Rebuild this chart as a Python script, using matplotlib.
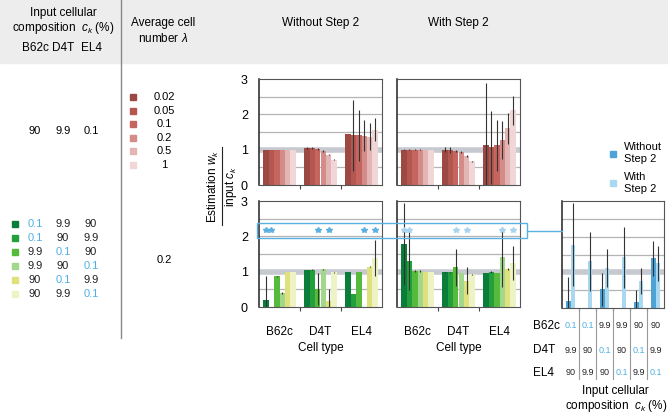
import matplotlib.pyplot as plt
import matplotlib.transforms as mtransforms
import numpy as np
from matplotlib.lines import Line2D
from matplotlib.patches import Rectangle

plt.rcParams["font.family"] = ["Liberation Sans", "DejaVu Sans"]
plt.rcParams["mathtext.fontset"] = "custom"
plt.rcParams["mathtext.rm"] = "Liberation Sans"
plt.rcParams["mathtext.it"] = "Liberation Sans:italic"

# ---- data ----
cell_types = ["B62c", "D4T", "EL4"]
lambdas = ["0.02", "0.05", "0.1", "0.2", "0.5", "1"]
top_composition = ["90", "9.9", "0.1"]

# input compositions (%) as B62c, D4T, EL4
compositions = [
    ["0.1", "9.9", "90"],
    ["0.1", "90", "9.9"],
    ["9.9", "0.1", "90"],
    ["9.9", "90", "0.1"],
    ["90", "0.1", "9.9"],
    ["90", "9.9", "0.1"],
]

# top row: rows = cell type, columns = lambda
lam_without = [
    [1.0, 1.0, 1.0, 1.0, 1.0, 1.0],
    [1.05, 1.05, 1.02, 0.96, 0.86, 0.72],
    [1.43, 1.41, 1.41, 1.40, 1.37, 1.57],
]
lam_without_err = [
    [0.0, 0.0, 0.0, 0.0, 0.0, 0.0],
    [0.03, 0.03, 0.02, 0.02, 0.02, 0.01],
    [0.0, 1.0, 0.72, 0.45, 0.39, 0.32],
]
lam_with = [
    [1.0, 1.0, 1.0, 1.0, 1.0, 1.0],
    [1.0, 0.99, 0.97, 0.93, 0.82, 0.67],
    [1.12, 1.07, 1.12, 1.27, 1.6, 2.11],
]
lam_with_err = [
    [0.01, 0.01, 0.01, 0.01, 0.0, 0.0],
    [0.08, 0.08, 0.03, 0.02, 0.02, 0.01],
    [1.77, 1.03, 0.71, 0.53, 0.44, 0.41],
]

# bottom row (lambda = 0.2): rows = cell type, columns = composition
comp_without = [
    [0.19, 0.0, 0.87, 0.40, 0.99, 1.0],
    [1.05, 1.06, 0.52, 1.07, 0.17, 0.98],
    [1.0, 0.38, 1.0, 0.0, 1.14, 1.39],
]
comp_without_err = [
    [0.68, 0.0, 0.02, 0.02, 0.0, 0.0],
    [0.01, 0.01, 0.45, 0.01, 0.33, 0.02],
    [0.0, 0.0, 0.0, 0.0, 0.02, 0.5],
]
comp_with = [
    [1.78, 1.31, 1.02, 1.03, 1.0, 1.0],
    [0.98, 0.98, 1.12, 0.97, 0.75, 0.92],
    [0.97, 0.99, 0.97, 1.42, 1.07, 1.25],
]
comp_with_err = [
    [1.17, 0.82, 0.02, 0.03, 0.0, 0.0],
    [0.01, 0.01, 0.53, 0.0, 0.37, 0.02],
    [0.0, 0.02, 0.0, 0.85, 0.02, 0.48],
]

# ---- style ----
reds = ["#9c4843", "#b45751", "#c4655f", "#d48c88", "#e3b5b4", "#f0d6d6"]
greens = ["#0b7d3b", "#23a03c", "#56ba3c", "#a2d78c", "#dfe17c", "#eef3c6"]
blue_wo = "#4ea3d6"
blue_w = "#a9d8f1"
rare_blue = "#4fb0e6"

W, H = 668, 416


def fx(x):
    return x / W


def fy(y):
    return 1 - y / H


def box(l, t, r, b):
    return [l / W, 1 - b / H, (r - l) / W, (b - t) / H]


def style_axes(ax, ncat, show_y):
    ax.set_xlim(0, ncat)
    ax.set_ylim(0, 3)
    for y in (0.5, 1.5, 2, 2.5):
        ax.axhline(y, color="#b4b4b4", lw=0.9, zorder=0)
    ax.axhline(1, color="#c6c9d0", lw=4, zorder=0.5)
    ax.set_yticks([0, 1, 2, 3])
    ax.set_yticks([0.5, 1.5, 2.5], minor=True)
    ax.tick_params(axis="y", which="both", length=0, labelsize=9, pad=8,
                   labelleft=show_y)
    ax.set_xticks(np.arange(1, ncat), minor=True)
    ax.set_xticks([])
    ax.tick_params(axis="x", which="minor", length=3, width=0.8,
                   direction="out", color="#444")
    for s in ax.spines.values():
        s.set_color("#555")
        s.set_linewidth(0.8)
    ax.spines["left"].set_color("#222")
    ax.spines["left"].set_linewidth(1.1)


def grouped(ax, vals, errs, colors):
    n = len(colors)
    w = 0.8 / n
    xs = []
    for g, (row, erow) in enumerate(zip(vals, errs)):
        x = g + 0.1 + w * (np.arange(n) + 0.5)
        ax.bar(x, row, width=w, color=colors, zorder=2)
        ax.errorbar(x, row, yerr=erow, fmt="none", ecolor="#333",
                    elinewidth=0.8, capsize=0, zorder=3)
        xs.append(x)
    return xs


fig = plt.figure(figsize=(W / 100, H / 100), dpi=100)

# header band and divider
fig.add_artist(Rectangle((0, fy(63)), 1, 63 / H, transform=fig.transFigure,
                         color="#ededed", zorder=0))
fig.add_artist(Line2D([fx(120.5)] * 2, [fy(0), fy(338)],
                      transform=fig.transFigure, color="#888", lw=1))

fig.text(fx(63), fy(13), "Input cellular", ha="center", va="center", fontsize=8.5)
fig.text(fx(63), fy(28), "composition  $c_k$ (%)", ha="center", va="center",
         fontsize=8.5)
for name, x in zip(cell_types, (35, 63, 91)):
    fig.text(fx(x), fy(48), name, ha="center", va="center", fontsize=8.5)
fig.text(fx(163), fy(23), "Average cell", ha="center", va="center", fontsize=8.5)
fig.text(fx(163), fy(38), "number $\\lambda$", ha="center", va="center",
         fontsize=8.5)
fig.text(fx(320.5), fy(23), "Without Step 2", ha="center", va="center",
         fontsize=8.5)
fig.text(fx(458.5), fy(23), "With Step 2", ha="center", va="center",
         fontsize=8.5)

# lambda legend
for i, (lab, c) in enumerate(zip(lambdas, reds)):
    y = 97 + 13.6 * i
    fig.add_artist(Rectangle((fx(130), fy(y + 3)), 6 / W, 6 / H,
                             transform=fig.transFigure, color=c))
    fig.text(fx(164), fy(y), lab, ha="center", va="center", fontsize=8)
for v, x in zip(top_composition, (35, 63, 91)):
    fig.text(fx(x), fy(131.5), v, ha="center", va="center", fontsize=8)

# composition legend
for i, (row, c) in enumerate(zip(compositions, greens)):
    y = 224.3 + 14 * i
    fig.add_artist(Rectangle((fx(12), fy(y + 3)), 6 / W, 6 / H,
                             transform=fig.transFigure, color=c))
    for v, x in zip(row, (35, 63, 91)):
        fig.text(fx(x), fy(y), v, ha="center", va="center", fontsize=8,
                 color=rare_blue if v == "0.1" else "#222")
fig.text(fx(164), fy(260), "0.2", ha="center", va="center", fontsize=8)

# y label as fraction
fig.text(fx(213), fy(186), "Estimation $w_k$", rotation=90, ha="center",
         va="center", fontsize=8.5)
fig.add_artist(Line2D([fx(222)] * 2, [fy(147), fy(225)],
                      transform=fig.transFigure, color="#222", lw=0.8))
fig.text(fx(231), fy(186), "input $c_k$", rotation=90, ha="center",
         va="center", fontsize=8.5)

# ---- panels ----
ax_tw = fig.add_axes(box(259, 79, 382, 185))
ax_tws = fig.add_axes(box(397, 79, 520, 185))
ax_bw = fig.add_axes(box(259, 201, 382, 307))
ax_bws = fig.add_axes(box(397, 201, 520, 307))
ax_r = fig.add_axes(box(562, 201, 664, 308))

style_axes(ax_tw, 3, True)
style_axes(ax_tws, 3, False)
style_axes(ax_bw, 3, True)
style_axes(ax_bws, 3, False)
style_axes(ax_r, 6, False)

grouped(ax_tw, lam_without, lam_without_err, reds)
grouped(ax_tws, lam_with, lam_with_err, reds)
xs_wo = grouped(ax_bw, comp_without, comp_without_err, greens)
xs_w = grouped(ax_bws, comp_with, comp_with_err, greens)

# stars where the cell type is the rare (0.1 %) one
for ax, xs, c in ((ax_bw, xs_wo, "#5ab0e2"), (ax_bws, xs_w, "#a9d4ef")):
    for g, x in enumerate(xs):
        sel = [x[i] for i, row in enumerate(compositions) if row[g] == "0.1"]
        ax.plot(sel, [2.17] * len(sel), ls="none", marker="*", ms=4.2,
                color=c, mec=c, zorder=4)
    ax.set_xticks([0.5, 1.5, 2.5], cell_types)
    ax.tick_params(axis="x", which="major", length=0, pad=14, labelsize=8.5)

for xc in (320.5, 458.5):
    fig.text(fx(xc), fy(348), "Cell type", ha="center", va="center",
             fontsize=8.5)

# highlight box linking rare estimates to right panel
blue_line = "#5ab0e0"
fig.add_artist(Rectangle((fx(257), fy(238)), (527 - 257) / W, 15 / H,
                         transform=fig.transFigure, fill=False,
                         ec=blue_line, lw=1))
fig.add_artist(Line2D([fx(527), fx(562)], [fy(231)] * 2,
                      transform=fig.transFigure, color=blue_line, lw=1))

# right panel: estimate of the rare cell type per composition
rare = [row.index("0.1") for row in compositions]
r_wo = [comp_without[rare[i]][i] for i in range(len(compositions))]
r_wo_err = [comp_without_err[rare[i]][i] for i in range(len(compositions))]
r_w = [comp_with[rare[i]][i] for i in range(len(compositions))]
r_w_err = [comp_with_err[rare[i]][i] for i in range(len(compositions))]
xc = np.arange(len(compositions)) + 0.5
ax_r.bar(xc - 0.145, r_wo, width=0.29, color=blue_wo, zorder=2)
ax_r.bar(xc + 0.145, r_w, width=0.29, color=blue_w, zorder=2)
ax_r.errorbar(xc - 0.145, r_wo, yerr=r_wo_err, fmt="none", ecolor="#333",
              elinewidth=0.8, capsize=0, zorder=3)
ax_r.errorbar(xc + 0.145, r_w, yerr=r_w_err, fmt="none", ecolor="#333",
              elinewidth=0.8, capsize=0, zorder=3)

trans = mtransforms.blended_transform_factory(ax_r.transData, ax_r.transAxes)
for b in range(1, len(compositions)):
    ax_r.plot([b, b], [0, -0.66], transform=trans, color="#999", lw=0.8,
              clip_on=False)
row_y = [-0.168, -0.393, -0.607]
for r, (name, yy) in enumerate(zip(cell_types, row_y)):
    fig.text(fx(533), fy(308 - yy * 107), name, ha="left", va="center",
             fontsize=8.5)
    for i, row in enumerate(compositions):
        v = row[r]
        ax_r.text(i + 0.5, yy, v, transform=trans, ha="center", va="center",
                  fontsize=6.5, color=rare_blue if v == "0.1" else "#222")
fig.text(fx(615), fy(391), "Input cellular", ha="center", va="center",
         fontsize=8.5)
fig.text(fx(616), fy(406), "composition  $c_k$ (%)", ha="center", va="center",
         fontsize=8.5)

# step legend
for lab, c, y in (("Without\nStep 2", blue_wo, 153.5), ("With\nStep 2", blue_w, 183)):
    fig.add_artist(Rectangle((fx(610), fy(y + 3)), 6 / W, 6 / H,
                             transform=fig.transFigure, color=c))
    fig.text(fx(624), fy(y), lab, ha="left", va="center", fontsize=8,
             linespacing=1.25)

fig.savefig("out.png", dpi=100)
